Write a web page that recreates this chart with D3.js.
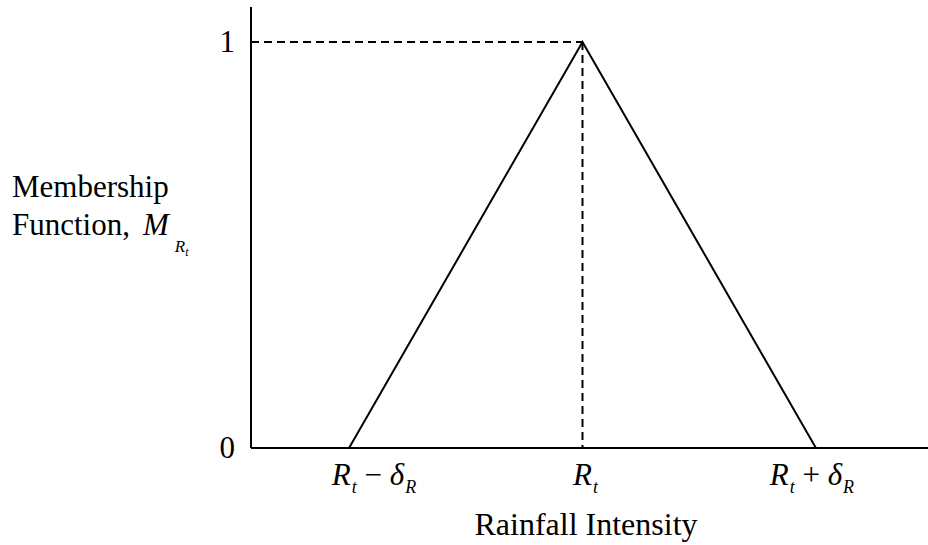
<!DOCTYPE html>
<html>
<head>
<meta charset="utf-8">
<script src="https://cdn.jsdelivr.net/npm/d3@7"></script>
<style>
  html, body { margin: 0; padding: 0; background: #fff; }
  svg text, svg tspan { font-family: 'Liberation Serif', 'Tinos', 'Times New Roman', Times, 'DejaVu Serif', serif; fill: #000; }
</style>
</head>
<body>
<svg id="chart" width="928" height="545"></svg>
<script>
// ---- data ----
const membershipX = [-1, 0, 1];          // R_t - δ_R, R_t, R_t + δ_R (in units of δ_R)
const membershipY = [0, 1, 0];
const xTickValues = [-1, 0, 1];
const xTickLabels = [
  [{t: "R", it: true}, {t: "t", sub: true}, {t: " − "}, {t: "δ", it: true}, {t: "R", sub: true}],
  [{t: "R", it: true}, {t: "t", sub: true}],
  [{t: "R", it: true}, {t: "t", sub: true}, {t: " + "}, {t: "δ", it: true}, {t: "R", sub: true}]
];
const yTickValues = [0, 1];
const yTickLabels = ["0", "1"];
const xTitle = "Rainfall Intensity";
const yTitleLines = ["Membership", "Function,"];

// ---- layout ----
const svg = d3.select("#chart");
const x = d3.scaleLinear().domain([-1.42, 1.48]).range([251, 928]);
const y = d3.scaleLinear().domain([0, 1]).range([448, 42]);
const yTop = 1.086;

// axes lines
svg.append("line").attr("x1", x(-1.42)).attr("x2", x(-1.42))
  .attr("y1", y(0)).attr("y2", y(yTop)).attr("stroke", "#000").attr("stroke-width", 2);
svg.append("line").attr("x1", x(-1.42)).attr("x2", x(1.48))
  .attr("y1", y(0)).attr("y2", y(0)).attr("stroke", "#000").attr("stroke-width", 2);

// dashed guides to the peak
const peakIdx = membershipY.indexOf(d3.max(membershipY));
svg.append("line").attr("x1", x(-1.42)).attr("x2", x(membershipX[peakIdx]))
  .attr("y1", y(1)).attr("y2", y(1))
  .attr("stroke", "#000").attr("stroke-width", 2).attr("stroke-dasharray", "8,5");
svg.append("line").attr("x1", x(membershipX[peakIdx])).attr("x2", x(membershipX[peakIdx]))
  .attr("y1", y(1)).attr("y2", y(0))
  .attr("stroke", "#000").attr("stroke-width", 2).attr("stroke-dasharray", "8,5");

// triangle membership function
const line = d3.line().x((d, i) => x(membershipX[i])).y(d => y(d));
svg.append("path").datum(membershipY).attr("d", line)
  .attr("fill", "none").attr("stroke", "#000").attr("stroke-width", 2);

// y tick labels
svg.selectAll(".ytl").data(yTickValues).enter().append("text")
  .attr("class", "ytl")
  .attr("x", 235).attr("y", d => y(d) + 10)
  .attr("text-anchor", "end").style("font-size", "31px")
  .text((d, i) => yTickLabels[i]);

// x tick labels
const xLabelShift = [25, 3, -4];
xTickValues.forEach((v, i) => {
  const t = svg.append("text")
    .attr("x", x(v) + xLabelShift[i]).attr("y", 485)
    .attr("text-anchor", "middle").style("font-size", "31px");
  let shifted = false;
  xTickLabels[i].forEach(p => {
    const s = t.append("tspan").text(p.t);
    if (p.sub) {
      s.style("font-size", "18px").style("font-style", "italic").attr("dy", 8).attr("dx", 1);
      shifted = true;
    } else {
      if (shifted) { s.attr("dy", -8); shifted = false; }
      if (p.it) s.style("font-style", "italic");
    }
  });
});

// x title
svg.append("text").attr("x", 586).attr("y", 535)
  .attr("text-anchor", "middle").style("font-size", "32px").text(xTitle);

// y title
yTitleLines.forEach((l, i) => {
  svg.append("text").attr("x", 12).attr("y", 197 + i * 38)
    .style("font-size", "31px").text(l);
});
const mt = svg.append("text").attr("x", 143).attr("y", 235).style("font-size", "31px");
mt.append("tspan").style("font-style", "italic").text("M");
mt.append("tspan").style("font-style", "italic").style("font-size", "17px").attr("dx", 6).attr("dy", 17).text("R");
mt.append("tspan").style("font-style", "italic").style("font-size", "12px").attr("dy", 4).text("t");
</script>
</body>
</html>
